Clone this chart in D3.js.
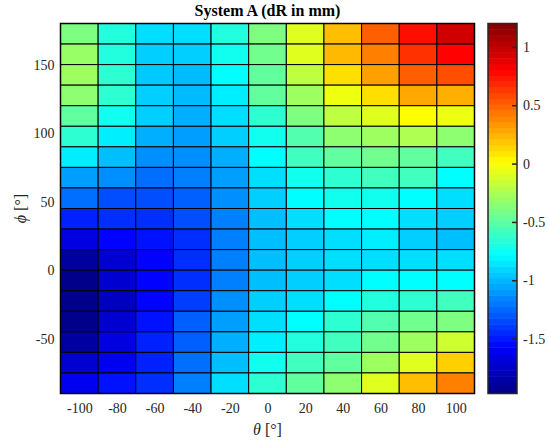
<!DOCTYPE html>
<html>
<head>
<meta charset="utf-8">
<script src="https://cdn.jsdelivr.net/npm/d3@7"></script>
<style>
  body { margin: 0; background: #fff; }
  svg text { font-family: "Liberation Serif", "Times New Roman", serif; fill: #262626; }
</style>
</head>
<body>
<div id="chart-container"></div>
<script>
// theta column centres and phi row lower edges (rows listed top to bottom)
var thetaValues = [-100, -80, -60, -40, -20, 0, 20, 40, 60, 80, 100];
var phiValues = [165, 150, 135, 120, 105, 90, 75, 60, 45, 30, 15, 0, -15, -30, -45, -60, -75, -90];

// dR in mm, one row per phi value, one entry per theta value
var dR = [
  [-0.39, -0.68, -0.88, -0.88, -0.68, -0.39, -0.085, 0.21, 0.51, 0.76, 0.95],
  [-0.31, -0.68, -0.93, -0.93, -0.73, -0.43, -0.085, 0.23, 0.41, 0.65, 0.80],
  [-0.29, -0.64, -0.95, -0.99, -0.78, -0.48, -0.19, 0.11, 0.31, 0.51, 0.56],
  [-0.34, -0.64, -0.93, -0.99, -0.83, -0.48, -0.29, -0.04, 0.11, 0.28, 0.26],
  [-0.48, -0.73, -0.93, -1.03, -0.88, -0.64, -0.39, -0.19, -0.085, 0.01, -0.04],
  [-0.64, -0.83, -1.03, -1.08, -0.93, -0.73, -0.53, -0.34, -0.29, -0.24, -0.34],
  [-0.83, -0.98, -1.13, -1.13, -1.03, -0.78, -0.58, -0.48, -0.43, -0.48, -0.58],
  [-1.08, -1.13, -1.23, -1.18, -1.08, -0.88, -0.73, -0.64, -0.58, -0.58, -0.78],
  [-1.23, -1.33, -1.33, -1.28, -1.13, -0.93, -0.78, -0.73, -0.73, -0.78, -0.88],
  [-1.475, -1.43, -1.43, -1.33, -1.18, -0.98, -0.88, -0.78, -0.78, -0.88, -0.93],
  [-1.67, -1.57, -1.52, -1.43, -1.18, -0.98, -0.93, -0.88, -0.83, -0.93, -0.98],
  [-1.87, -1.72, -1.57, -1.43, -1.18, -0.98, -0.93, -0.88, -0.88, -0.88, -0.88],
  [-1.94, -1.72, -1.57, -1.43, -1.18, -0.98, -0.93, -0.88, -0.78, -0.78, -0.78],
  [-1.94, -1.77, -1.57, -1.38, -1.13, -0.93, -0.88, -0.78, -0.68, -0.64, -0.58],
  [-1.94, -1.72, -1.52, -1.28, -1.08, -0.88, -0.78, -0.64, -0.53, -0.43, -0.39],
  [-1.87, -1.67, -1.475, -1.28, -1.03, -0.83, -0.68, -0.58, -0.43, -0.29, -0.14],
  [-1.72, -1.62, -1.475, -1.23, -0.98, -0.73, -0.58, -0.48, -0.29, -0.085, 0.16],
  [-1.62, -1.52, -1.43, -1.18, -0.88, -0.64, -0.48, -0.34, -0.085, 0.21, 0.41]
];

var thetaTicks = [-100, -80, -60, -40, -20, 0, 20, 40, 60, 80, 100];
var phiTicks = [-50, 0, 50, 100, 150];
var cbTicks = [-1.5, -1, -0.5, 0, 0.5, 1];
var cLimits = [-1.97, 1.2];

var width = 548;
var height = 443;
var plot = {left: 60.5, right: 474.5, top: 23.5, bottom: 393.5};
var cbar = {left: 488, right: 517, top: 23.5, bottom: 393.5};

// jet colormap, stops at 0, 1/8, 3/8, 5/8, 7/8, 1 of the colour range
var jetStops = [0, 0.125, 0.375, 0.625, 0.875, 1];
var jetColors = ["#000080", "#0000ff", "#00ffff", "#ffff00", "#ff0000", "#800000"];
var color = d3.scaleLinear()
    .domain(jetStops.map(function (t) { return cLimits[0] + t * (cLimits[1] - cLimits[0]); }))
    .range(jetColors)
    .clamp(true);

//plain hyphen for negatives, like the original
var plainFormat = function (d) { return String(d); };

var svg = d3.select("#chart-container")
    .append("svg")
    .attr("width", width)
    .attr("height", height);

var x = d3.scaleLinear().domain([-110, 110]).range([plot.left, plot.right]);
var y = d3.scaleLinear().domain([-90, 180]).range([plot.bottom, plot.top]);

//flatten the matrix into one cell per (theta, phi)
var cells = [];
for (var i = 0; i < phiValues.length; i++) {
    for (var j = 0; j < thetaValues.length; j++) {
        cells.push({theta: thetaValues[j], phi: phiValues[i], v: dR[i][j]});
    }
}

svg.append("g")
    .selectAll("rect")
    .data(cells)
    .enter()
    .append("rect")
    .attr("x", function (d) { return x(d.theta - 10); })
    .attr("y", function (d) { return y(d.phi + 15); })
    .attr("width", function (d) { return x(d.theta + 10) - x(d.theta - 10); })
    .attr("height", function (d) { return y(d.phi) - y(d.phi + 15); })
    .style("fill", function (d) { return color(d.v); })
    .style("stroke", "#000")
    .style("stroke-width", 1);

// axes box
svg.append("rect")
    .attr("x", plot.left)
    .attr("y", plot.top)
    .attr("width", plot.right - plot.left)
    .attr("height", plot.bottom - plot.top)
    .style("fill", "none")
    .style("stroke", "#000")
    .style("stroke-width", 1.5);

var xAxis = svg.append("g")
    .attr("transform", "translate(0," + plot.bottom + ")")
    .call(d3.axisBottom(x).tickValues(thetaTicks).tickSize(0).tickPadding(10).tickFormat(plainFormat));
var yAxis = svg.append("g")
    .attr("transform", "translate(" + plot.left + ",0)")
    .call(d3.axisLeft(y).tickValues(phiTicks).tickSize(0).tickPadding(6).tickFormat(plainFormat));
[xAxis, yAxis].forEach(function (g) {
    g.select(".domain").remove();
    g.selectAll("text").style("font-size", "14px").style("font-family", null);
});

svg.append("text")
    .attr("x", (plot.left + plot.right) / 2)
    .attr("y", 16)
    .attr("text-anchor", "middle")
    .style("font-size", "16px")
    .style("font-weight", "bold")
    .style("fill", "#000")
    .text("System A (dR in mm)");

var xl = svg.append("text")
    .attr("x", (plot.left + plot.right) / 2)
    .attr("y", 435)
    .attr("text-anchor", "middle")
    .style("font-size", "16px");
xl.append("tspan").style("font-style", "italic").text("θ");
xl.append("tspan").text(" [°]");

var yl = svg.append("text")
    .attr("transform", "translate(26," + ((plot.top + plot.bottom) / 2) + ") rotate(-90)")
    .attr("text-anchor", "middle")
    .style("font-size", "16px");
yl.append("tspan").style("font-style", "italic").text("ϕ");
yl.append("tspan").text(" [°]");

// colorbar: 64 bands like jet(64)
var cy = d3.scaleLinear().domain(cLimits).range([cbar.bottom, cbar.top]);
var bands = d3.range(64).map(function (k) {
    var step = (cLimits[1] - cLimits[0]) / 64;
    return {lo: cLimits[0] + k * step, hi: cLimits[0] + (k + 1) * step};
});
svg.append("g")
    .selectAll("rect")
    .data(bands)
    .enter()
    .append("rect")
    .attr("x", cbar.left)
    .attr("y", function (d) { return cy(d.hi); })
    .attr("width", cbar.right - cbar.left)
    .attr("height", function (d) { return cy(d.lo) - cy(d.hi) + 0.5; })
    .style("fill", function (d) { return color((d.lo + d.hi) / 2); });

var cAxis = svg.append("g")
    .attr("transform", "translate(" + cbar.right + ",0)")
    .call(d3.axisRight(cy).tickValues(cbTicks).tickSize(-5).tickPadding(6).tickFormat(plainFormat));
cAxis.select(".domain").remove();
cAxis.selectAll("line").style("stroke", "#262626").style("stroke-width", 1.5);
cAxis.selectAll("text").style("font-size", "14px").style("font-family", null).attr("x", 6);

svg.append("rect")
    .attr("x", cbar.left)
    .attr("y", cbar.top)
    .attr("width", cbar.right - cbar.left)
    .attr("height", cbar.bottom - cbar.top)
    .style("fill", "none")
    .style("stroke", "#262626")
    .style("stroke-width", 1.5);
</script>
</body>
</html>
